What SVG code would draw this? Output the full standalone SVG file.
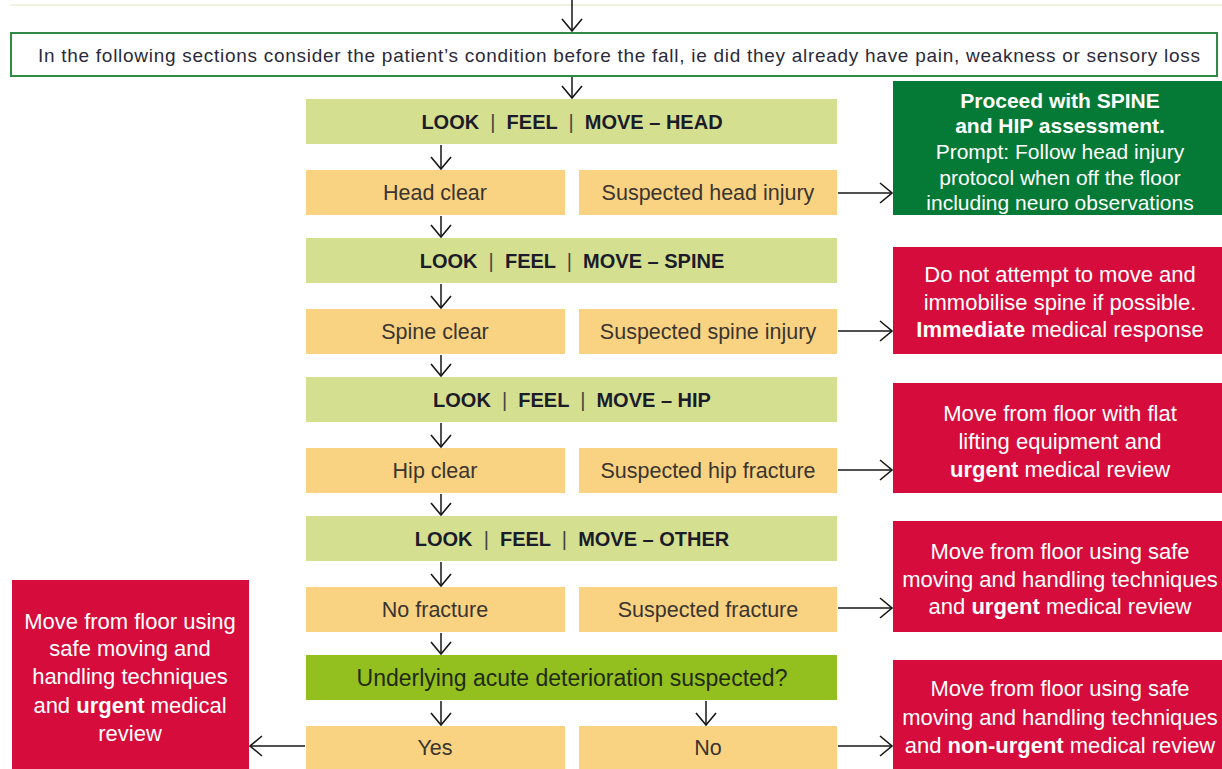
<svg xmlns="http://www.w3.org/2000/svg" width="1222" height="769" viewBox="0 0 1222 769">
<style>
text{font-family:"Liberation Sans",Arial,sans-serif;text-anchor:middle;dominant-baseline:central}
.lg{fill:#d4e08f}
.or{fill:#f9d381}
.red{fill:#d50c3c}
.dg{fill:#047a36}
.hd{font-size:20px;font-weight:bold;fill:#1b1b2a;white-space:pre}
.bar{font-weight:normal;fill:#444}
.ot{font-size:21.5px;fill:#3a3530}
.wt{font-size:22px;fill:#ffffff}
.wg{font-size:21px;fill:#ffffff}
.b{font-weight:bold}
.cn{fill:none;stroke:#161616;stroke-width:1.5}
</style>
<defs>
<marker id="ah" viewBox="-15 -12 17 24" refX="0" refY="0" markerWidth="17" markerHeight="24" markerUnits="userSpaceOnUse" orient="auto">
<path d="M-12,-10 L0,0 L-12,10" fill="none" stroke="#161616" stroke-width="1.6"/>
</marker>
</defs>
<rect width="1222" height="769" fill="#ffffff"/>
<line x1="10" y1="5" x2="1222" y2="5" stroke="#e1e7c0" stroke-width="1"/>

<g id="intro">
<rect x="11" y="33" width="1206" height="43" fill="#ffffff" stroke="#2f8a45" stroke-width="2"/>
<text x="619" y="55" style="font-size:19px;fill:#2a2a3a" textLength="1162" lengthAdjust="spacing">In the following sections consider the patient’s condition before the fall, ie did they already have pain, weakness or sensory loss</text>
</g>

<g id="head">
<rect class="lg" x="306" y="99" width="531" height="45"/>
<text class="hd" xml:space="preserve" x="572" y="122">LOOK  <tspan class="bar">|</tspan>  FEEL  <tspan class="bar">|</tspan>  MOVE – HEAD</text>
</g>
<g id="head-clear">
<rect class="or" x="306" y="170" width="259" height="45"/>
<text class="ot" x="435" y="193">Head clear</text>
</g>
<g id="head-injury">
<rect class="or" x="579" y="170" width="258" height="45"/>
<text class="ot" x="708" y="193">Suspected head injury</text>
</g>
<g id="head-action">
<rect class="dg" x="893" y="81" width="329" height="134"/>
<text class="wg b" x="1060" y="100">Proceed with SPINE</text>
<text class="wg b" x="1060" y="125">and HIP assessment.</text>
<text class="wg" x="1060" y="151">Prompt: Follow head injury</text>
<text class="wg" x="1060" y="177">protocol when off the floor</text>
<text class="wg" x="1060" y="202">including neuro observations</text>
</g>

<g id="spine">
<rect class="lg" x="306" y="238" width="531" height="45"/>
<text class="hd" xml:space="preserve" x="572" y="261">LOOK  <tspan class="bar">|</tspan>  FEEL  <tspan class="bar">|</tspan>  MOVE – SPINE</text>
</g>
<g id="spine-clear">
<rect class="or" x="306" y="309" width="259" height="45"/>
<text class="ot" x="435" y="332">Spine clear</text>
</g>
<g id="spine-injury">
<rect class="or" x="579" y="309" width="258" height="45"/>
<text class="ot" x="708" y="332">Suspected spine injury</text>
</g>
<g id="spine-action">
<rect class="red" x="893" y="247" width="329" height="107"/>
<text class="wt" x="1060" y="274">Do not attempt to move and</text>
<text class="wt" x="1060" y="302">immobilise spine if possible.</text>
<text class="wt" x="1060" y="329"><tspan class="b">Immediate</tspan> medical response</text>
</g>

<g id="hip">
<rect class="lg" x="306" y="377" width="531" height="45"/>
<text class="hd" xml:space="preserve" x="572" y="400">LOOK  <tspan class="bar">|</tspan>  FEEL  <tspan class="bar">|</tspan>  MOVE – HIP</text>
</g>
<g id="hip-clear">
<rect class="or" x="306" y="448" width="259" height="45"/>
<text class="ot" x="435" y="471">Hip clear</text>
</g>
<g id="hip-fracture">
<rect class="or" x="579" y="448" width="258" height="45"/>
<text class="ot" x="708" y="471">Suspected hip fracture</text>
</g>
<g id="hip-action">
<rect class="red" x="893" y="383" width="329" height="110"/>
<text class="wt" x="1060" y="413">Move from floor with flat</text>
<text class="wt" x="1060" y="441">lifting equipment and</text>
<text class="wt" x="1060" y="469"><tspan class="b">urgent</tspan> medical review</text>
</g>

<g id="other">
<rect class="lg" x="306" y="516" width="531" height="45"/>
<text class="hd" xml:space="preserve" x="572" y="539">LOOK  <tspan class="bar">|</tspan>  FEEL  <tspan class="bar">|</tspan>  MOVE – OTHER</text>
</g>
<g id="no-fracture">
<rect class="or" x="306" y="587" width="259" height="45"/>
<text class="ot" x="435" y="610">No fracture</text>
</g>
<g id="fracture">
<rect class="or" x="579" y="587" width="258" height="45"/>
<text class="ot" x="708" y="610">Suspected fracture</text>
</g>
<g id="fracture-action">
<rect class="red" x="893" y="521" width="329" height="111"/>
<text class="wt" x="1060" y="551">Move from floor using safe</text>
<text class="wt" x="1060" y="579">moving and handling techniques</text>
<text class="wt" x="1060" y="606">and <tspan class="b">urgent</tspan> medical review</text>
</g>

<g id="deterioration">
<rect fill="#93c01f" x="306" y="655" width="531" height="45"/>
<text x="572" y="678" style="font-size:23px;fill:#1f2a12">Underlying acute deterioration suspected?</text>
</g>
<g id="yes">
<rect class="or" x="306" y="726" width="259" height="45"/>
<text class="ot" x="435" y="748">Yes</text>
</g>
<g id="no">
<rect class="or" x="579" y="726" width="258" height="45"/>
<text class="ot" x="708" y="748">No</text>
</g>
<g id="yes-action">
<rect class="red" x="12" y="580" width="237" height="191"/>
<text class="wt" x="130" y="621">Move from floor using</text>
<text class="wt" x="130" y="648">safe moving and</text>
<text class="wt" x="130" y="676">handling techniques</text>
<text class="wt" x="130" y="705">and <tspan class="b">urgent</tspan> medical</text>
<text class="wt" x="130" y="733">review</text>
</g>
<g id="no-action">
<rect class="red" x="893" y="660" width="329" height="111"/>
<text class="wt" x="1060" y="688">Move from floor using safe</text>
<text class="wt" x="1060" y="717">moving and handling techniques</text>
<text class="wt" x="1060" y="745">and <tspan class="b">non-urgent</tspan> medical review</text>
</g>

<g id="connectors" class="cn">
<line class="cn" x1="572" y1="0" x2="572" y2="31" marker-end="url(#ah)"/>
<line class="cn" x1="572" y1="77" x2="572" y2="98" marker-end="url(#ah)"/>
<line class="cn" x1="441" y1="145" x2="441" y2="169" marker-end="url(#ah)"/>
<line class="cn" x1="441" y1="216" x2="441" y2="237" marker-end="url(#ah)"/>
<line class="cn" x1="441" y1="284" x2="441" y2="308" marker-end="url(#ah)"/>
<line class="cn" x1="441" y1="355" x2="441" y2="376" marker-end="url(#ah)"/>
<line class="cn" x1="441" y1="423" x2="441" y2="447" marker-end="url(#ah)"/>
<line class="cn" x1="441" y1="494" x2="441" y2="515" marker-end="url(#ah)"/>
<line class="cn" x1="441" y1="562" x2="441" y2="586" marker-end="url(#ah)"/>
<line class="cn" x1="441" y1="633" x2="441" y2="654" marker-end="url(#ah)"/>
<line class="cn" x1="441" y1="701" x2="441" y2="725" marker-end="url(#ah)"/>
<line class="cn" x1="706" y1="701" x2="706" y2="725" marker-end="url(#ah)"/>
<line class="cn" x1="838" y1="193" x2="892" y2="193" marker-end="url(#ah)"/>
<line class="cn" x1="838" y1="331" x2="892" y2="331" marker-end="url(#ah)"/>
<line class="cn" x1="838" y1="470" x2="892" y2="470" marker-end="url(#ah)"/>
<line class="cn" x1="838" y1="608" x2="892" y2="608" marker-end="url(#ah)"/>
<line class="cn" x1="838" y1="746" x2="892" y2="746" marker-end="url(#ah)"/>
<line class="cn" x1="305" y1="746" x2="250" y2="746" marker-end="url(#ah)"/>
</g>
</svg>
